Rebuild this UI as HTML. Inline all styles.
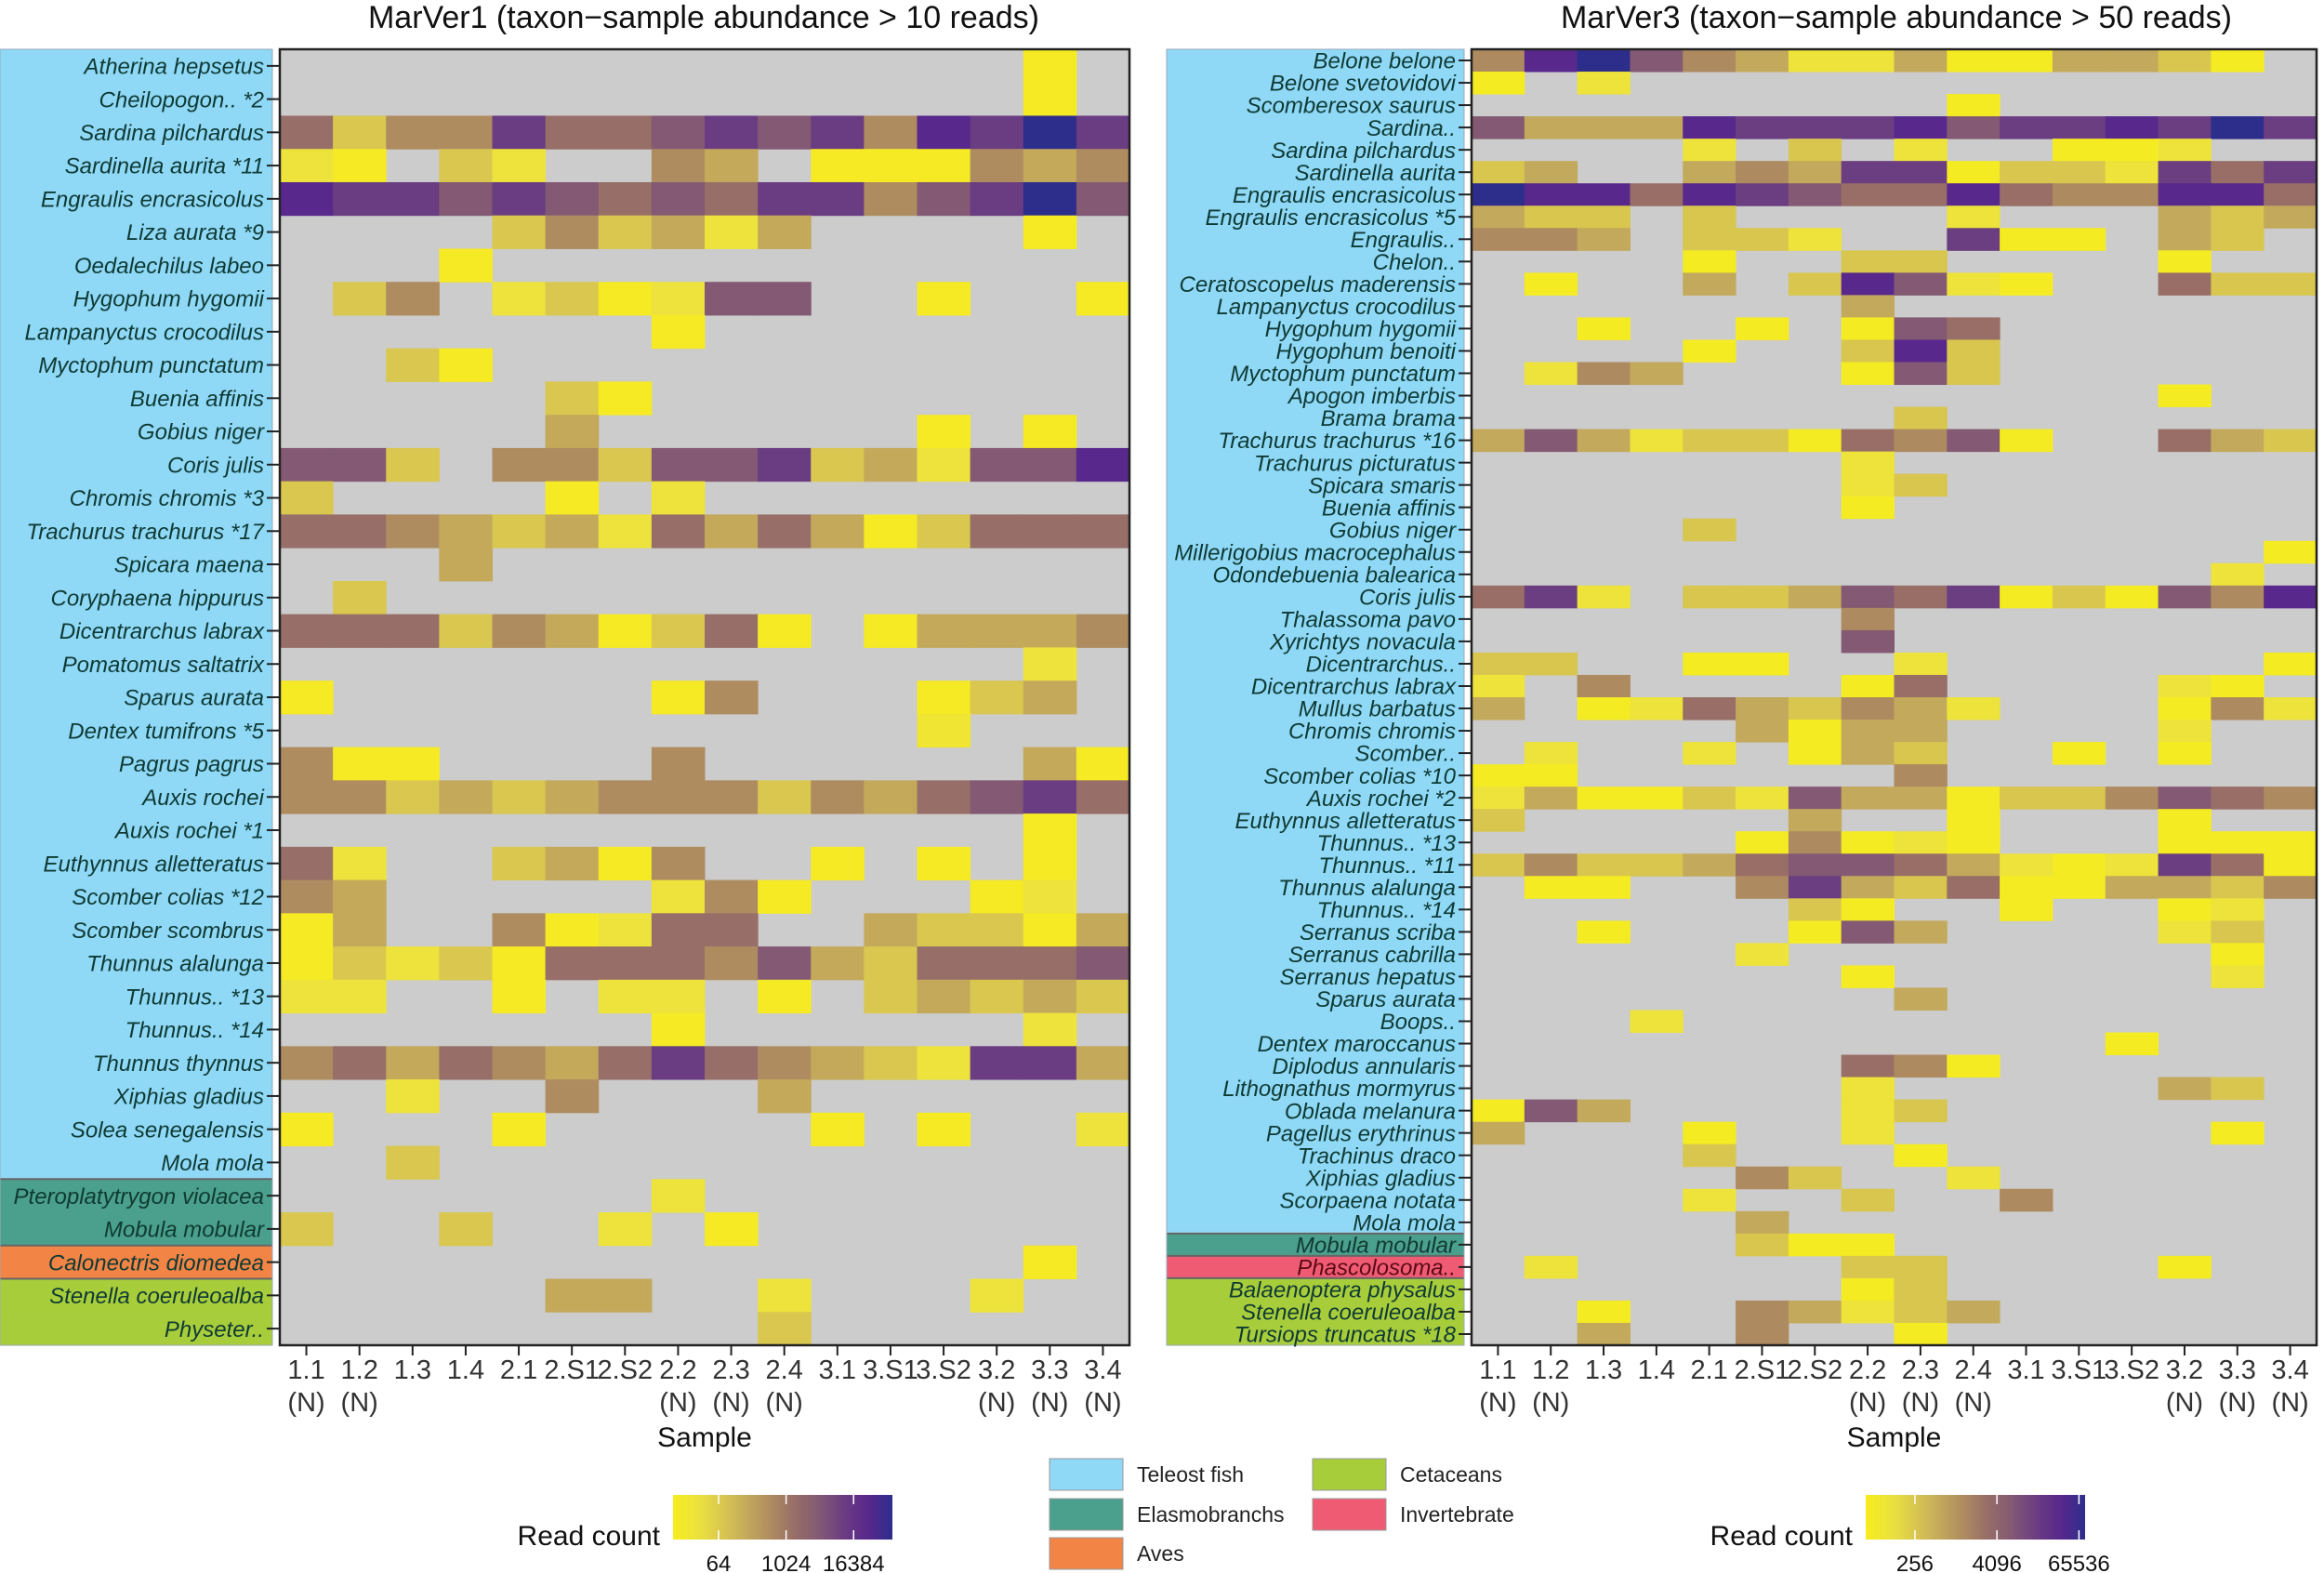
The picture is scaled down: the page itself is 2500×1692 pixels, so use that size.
<!DOCTYPE html>
<html><head><meta charset="utf-8">
<style>
html,body{margin:0;padding:0;background:#fff;}
svg{display:block;}
text{font-family:"Liberation Sans Narrow","Liberation Sans",sans-serif;}
</style></head>
<body>
<svg id="fig" width="2500" height="1692" viewBox="0 0 2500 1692" xmlns="http://www.w3.org/2000/svg">
  <text x="757" y="30" font-size="34" text-anchor="middle" fill="#111">MarVer1 (taxon−sample abundance &gt; 10 reads)</text>
  <text x="2040" y="30" font-size="34" text-anchor="middle" fill="#111">MarVer3 (taxon−sample abundance &gt; 50 reads)</text>
  <g id="left"></g>
  <g id="right"></g>
  <g id="legend"></g>
</svg>
<script>
const samples = ["1.1","1.2","1.3","1.4","2.1","2.S1","2.S2","2.2","2.3","2.4","3.1","3.S1","3.S2","3.2","3.3","3.4"];
const sampleSub = ["(N)","(N)","","","","","","(N)","(N)","(N)","","","","(N)","(N)","(N)"];

const leftTaxa = ["Atherina hepsetus","Cheilopogon..  *2","Sardina pilchardus","Sardinella aurita *11","Engraulis encrasicolus","Liza aurata *9","Oedalechilus labeo","Hygophum hygomii","Lampanyctus crocodilus","Myctophum punctatum","Buenia affinis","Gobius niger","Coris julis","Chromis chromis *3","Trachurus trachurus *17","Spicara maena","Coryphaena hippurus","Dicentrarchus labrax","Pomatomus saltatrix","Sparus aurata","Dentex tumifrons *5","Pagrus pagrus","Auxis rochei","Auxis rochei *1","Euthynnus alletteratus","Scomber colias *12","Scomber scombrus","Thunnus alalunga","Thunnus..  *13","Thunnus..  *14","Thunnus thynnus","Xiphias gladius","Solea senegalensis","Mola mola","Pteroplatytrygon violacea","Mobula mobular","Calonectris diomedea","Stenella coeruleoalba","Physeter.."];
const leftGroups = ["T","T","T","T","T","T","T","T","T","T","T","T","T","T","T","T","T","T","T","T","T","T","T","T","T","T","T","T","T","T","T","T","T","T","E","E","A","C","C"];
const leftReads = [
[0,0,0,0,0,0,0,0,0,0,0,0,0,0,12,0],
[0,0,0,0,0,0,0,0,0,0,0,0,0,0,12,0],
[1450,73,540,540,11000,1450,1450,4000,11000,4000,11000,540,30000,11000,80000,11000],
[27,12,0,73,27,0,0,540,200,0,12,12,12,540,200,540],
[30000,11000,11000,4000,11000,4000,1450,4000,1450,11000,11000,540,4000,11000,80000,4000],
[0,0,0,0,73,540,73,200,27,200,0,0,0,0,12,0],
[0,0,0,12,0,0,0,0,0,0,0,0,0,0,0,0],
[0,73,540,0,27,73,12,27,4000,4000,0,0,12,0,0,12],
[0,0,0,0,0,0,0,12,0,0,0,0,0,0,0,0],
[0,0,73,12,0,0,0,0,0,0,0,0,0,0,0,0],
[0,0,0,0,0,73,12,0,0,0,0,0,0,0,0,0],
[0,0,0,0,0,200,0,0,0,0,0,0,12,0,12,0],
[4000,4000,73,0,540,540,73,4000,4000,11000,73,200,27,4000,4000,30000],
[73,0,0,0,0,12,0,27,0,0,0,0,0,0,0,0],
[1450,1450,540,200,73,200,27,1450,200,1450,200,12,73,1450,1450,1450],
[0,0,0,200,0,0,0,0,0,0,0,0,0,0,0,0],
[0,73,0,0,0,0,0,0,0,0,0,0,0,0,0,0],
[1450,1450,1450,73,540,200,12,73,1450,12,0,12,200,200,200,540],
[0,0,0,0,0,0,0,0,0,0,0,0,0,0,27,0],
[12,0,0,0,0,0,0,12,540,0,0,0,12,73,200,0],
[0,0,0,0,0,0,0,0,0,0,0,0,20,0,0,0],
[540,12,12,0,0,0,0,540,0,0,0,0,0,0,200,12],
[540,540,73,200,73,200,540,540,540,73,540,200,1450,4000,11000,1450],
[0,0,0,0,0,0,0,0,0,0,0,0,0,0,12,0],
[1450,27,0,0,73,200,12,540,0,0,12,0,12,0,12,0],
[540,200,0,0,0,0,0,27,540,12,0,0,0,12,27,0],
[12,200,0,0,540,12,27,1450,1450,0,0,200,73,73,12,200],
[12,73,27,73,12,1450,1450,1450,540,4000,200,73,1450,1450,1450,4000],
[27,27,0,0,12,0,27,27,0,12,0,73,200,73,200,73],
[0,0,0,0,0,0,0,12,0,0,0,0,0,0,27,0],
[540,1450,200,1450,540,200,1450,11000,1450,540,200,73,27,11000,11000,200],
[0,0,27,0,0,540,0,0,0,200,0,0,0,0,0,0],
[12,0,0,0,12,0,0,0,0,0,12,0,12,0,0,27],
[0,0,73,0,0,0,0,0,0,0,0,0,0,0,0,0],
[0,0,0,0,0,0,0,27,0,0,0,0,0,0,0,0],
[73,0,0,73,0,0,27,0,12,0,0,0,0,0,0,0],
[0,0,0,0,0,0,0,0,0,0,0,0,0,0,12,0],
[0,0,0,0,0,200,200,0,0,27,0,0,0,27,0,0],
[0,0,0,0,0,0,0,0,0,73,0,0,0,0,0,0]
];

const rightTaxa = ["Belone belone","Belone svetovidovi","Scomberesox saurus","Sardina..","Sardina pilchardus","Sardinella aurita","Engraulis encrasicolus","Engraulis encrasicolus *5","Engraulis..","Chelon..","Ceratoscopelus maderensis","Lampanyctus crocodilus","Hygophum hygomii","Hygophum benoiti","Myctophum punctatum","Apogon imberbis","Brama brama","Trachurus trachurus *16","Trachurus picturatus","Spicara smaris","Buenia affinis","Gobius niger","Millerigobius macrocephalus","Odondebuenia balearica","Coris julis","Thalassoma pavo","Xyrichtys novacula","Dicentrarchus..","Dicentrarchus labrax","Mullus barbatus","Chromis chromis","Scomber..","Scomber colias *10","Auxis rochei *2","Euthynnus alletteratus","Thunnus..  *13","Thunnus..  *11","Thunnus alalunga","Thunnus..  *14","Serranus scriba","Serranus cabrilla","Serranus hepatus","Sparus aurata","Boops..","Dentex maroccanus","Diplodus annularis","Lithognathus mormyrus","Oblada melanura","Pagellus erythrinus","Trachinus draco","Xiphias gladius","Scorpaena notata","Mola mola","Mobula mobular","Phascolosoma..","Balaenoptera physalus","Stenella coeruleoalba","Tursiops truncatus *18"];
const rightGroups = ["T","T","T","T","T","T","T","T","T","T","T","T","T","T","T","T","T","T","T","T","T","T","T","T","T","T","T","T","T","T","T","T","T","T","T","T","T","T","T","T","T","T","T","T","T","T","T","T","T","T","T","T","T","E","I","C","C","C"];
const rightReads = [
[1350,35000,80000,6700,1350,590,110,110,590,55,55,590,590,260,55,0],
[55,0,110,0,0,0,0,0,0,0,0,0,0,0,0,0],
[0,0,0,0,0,0,0,0,0,55,0,0,0,0,0,0],
[6700,590,590,590,35000,15000,15000,15000,35000,6700,15000,15000,35000,15000,80000,15000],
[0,0,0,0,110,0,260,0,110,0,0,55,55,110,0,0],
[260,590,0,0,590,1350,590,15000,15000,55,260,260,110,15000,2900,15000],
[80000,35000,35000,2900,35000,15000,6700,2900,2900,35000,2900,1350,1350,35000,35000,2900],
[590,260,260,0,260,0,0,0,0,110,0,0,0,590,260,590],
[1350,1350,590,0,260,260,110,0,0,15000,55,55,0,590,260,0],
[0,0,0,0,55,0,0,260,260,0,0,0,0,55,0,0],
[0,55,0,0,590,0,260,35000,6700,110,55,0,0,2900,260,260],
[0,0,0,0,0,0,0,590,0,0,0,0,0,0,0,0],
[0,0,55,0,0,55,0,55,6700,2900,0,0,0,0,0,0],
[0,0,0,0,55,0,0,260,35000,260,0,0,0,0,0,0],
[0,110,1350,590,0,0,0,55,6700,260,0,0,0,0,0,0],
[0,0,0,0,0,0,0,0,0,0,0,0,0,55,0,0],
[0,0,0,0,0,0,0,0,260,0,0,0,0,0,0,0],
[590,6700,590,110,260,260,55,2900,1350,6700,55,0,0,2900,590,260],
[0,0,0,0,0,0,0,110,0,0,0,0,0,0,0,0],
[0,0,0,0,0,0,0,110,260,0,0,0,0,0,0,0],
[0,0,0,0,0,0,0,55,0,0,0,0,0,0,0,0],
[0,0,0,0,260,0,0,0,0,0,0,0,0,0,0,0],
[0,0,0,0,0,0,0,0,0,0,0,0,0,0,0,55],
[0,0,0,0,0,0,0,0,0,0,0,0,0,0,110,0],
[2900,15000,110,0,260,260,590,6700,2900,15000,55,260,55,6700,1350,35000],
[0,0,0,0,0,0,0,1350,0,0,0,0,0,0,0,0],
[0,0,0,0,0,0,0,6700,0,0,0,0,0,0,0,0],
[260,260,0,0,55,55,0,0,110,0,0,0,0,0,0,55],
[110,0,1350,0,0,0,0,55,2900,0,0,0,0,110,55,0],
[590,0,55,110,2900,590,260,1350,590,110,0,0,0,55,1350,110],
[0,0,0,0,0,590,55,590,590,0,0,0,0,110,0,0],
[0,110,0,0,110,0,55,590,260,0,0,55,0,55,0,0],
[55,55,0,0,0,0,0,0,1350,0,0,0,0,0,0,0],
[110,590,55,55,260,110,6700,590,590,55,260,260,1350,6700,2900,1350],
[260,0,0,0,0,0,590,0,0,55,0,0,0,55,0,0],
[0,0,0,0,0,55,1350,55,110,55,0,0,0,55,55,55],
[260,1350,260,260,590,2900,6700,6700,2900,590,110,55,110,15000,2900,55],
[0,55,55,0,0,1350,15000,590,260,2900,55,55,590,590,260,1350],
[0,0,0,0,0,0,260,55,0,0,55,0,0,55,110,0],
[0,0,55,0,0,0,55,6700,590,0,0,0,0,110,260,0],
[0,0,0,0,0,110,0,0,0,0,0,0,0,0,55,0],
[0,0,0,0,0,0,0,55,0,0,0,0,0,0,110,0],
[0,0,0,0,0,0,0,0,590,0,0,0,0,0,0,0],
[0,0,0,110,0,0,0,0,0,0,0,0,0,0,0,0],
[0,0,0,0,0,0,0,0,0,0,0,0,55,0,0,0],
[0,0,0,0,0,0,0,2900,1350,55,0,0,0,0,0,0],
[0,0,0,0,0,0,0,110,0,0,0,0,0,590,260,0],
[55,6700,590,0,0,0,0,110,260,0,0,0,0,0,0,0],
[590,0,0,0,55,0,0,110,0,0,0,0,0,0,55,0],
[0,0,0,0,260,0,0,0,55,0,0,0,0,0,0,0],
[0,0,0,0,0,1350,260,0,0,110,0,0,0,0,0,0],
[0,0,0,0,110,0,0,260,0,0,1350,0,0,0,0,0],
[0,0,0,0,0,590,0,0,0,0,0,0,0,0,0,0],
[0,0,0,0,0,260,55,55,0,0,0,0,0,0,0,0],
[0,110,0,0,0,0,0,260,260,0,0,0,0,55,0,0],
[0,0,0,0,0,0,0,55,260,0,0,0,0,0,0,0],
[0,0,55,0,0,1350,590,110,260,590,0,0,0,0,0,0],
[0,0,590,0,0,1350,0,0,55,0,0,0,0,0,0,0]
];

const leftTicks = [64,1024,16384];
const rightTicks = [256,4096,65536];

const NS = "http://www.w3.org/2000/svg";
const groupColor = {T:"#8fd8f6",E:"#4b9f8d",A:"#f28446",C:"#a8cd3b",I:"#ef5b73"};
const stops = [[0,[247,236,30]],[0.12,[236,226,62]],[0.28,[206,184,88]],[0.45,[174,138,96]],[0.56,[150,108,104]],[0.67,[130,88,116]],[0.78,[106,60,130]],[0.89,[88,40,140]],[1,[45,45,140]]];
function colorAt(t){
  t=Math.max(0,Math.min(1,t));
  for(let i=1;i<stops.length;i++){
    if(t<=stops[i][0]){
      const a=stops[i-1],b=stops[i];const f=(t-a[0])/(b[0]-a[0]);
      const c=a[1].map((v,k)=>Math.round(v+(b[1][k]-v)*f));
      return "rgb("+c.join(",")+")";
    }
  }
  return "rgb(45,45,140)";
}
function mk(tag,attrs,parent){
  const el=document.createElementNS(NS,tag);
  for(const k in attrs) el.setAttribute(k,attrs[k]);
  parent.appendChild(el);
  return el;
}

function panel(gid,cfg){
  const g=document.getElementById(gid);
  const n=cfg.taxa.length;
  const rh=(cfg.y1-cfg.y0)/n;
  const cw=(cfg.x1-cfg.x0)/samples.length;
  const yPos=i=>cfg.y0+i*rh;
  const xPos=j=>cfg.x0+j*cw;
  const tScale=v=>(Math.log2(v)-cfg.lmin)/(cfg.lmax-cfg.lmin);
  for(let i=0;i<n;i++){
    const r=mk("rect",{x:cfg.sx0,y:yPos(i),width:cfg.sx1-cfg.sx0,height:rh+0.6,fill:groupColor[cfg.groups[i]]},g);
    
    
  }
  for(let i=1;i<n;i++){
    if(cfg.groups[i]!==cfg.groups[i-1]){
      const l=mk("line",{x1:cfg.sx0,x2:cfg.sx1,y1:yPos(i),y2:yPos(i),stroke:"#666","stroke-width":2},g);
      
      
    }
  }
  const bo=mk("rect",{x:cfg.sx0,y:cfg.y0,width:cfg.sx1-cfg.sx0,height:cfg.y1-cfg.y0,fill:"none",stroke:"#9ab","stroke-width":1},g);
  
  
  const bg=mk("rect",{x:cfg.x0,y:cfg.y0,width:cfg.x1-cfg.x0,height:cfg.y1-cfg.y0,fill:"#cbcccb"},g);
  
  
  for(let i=0;i<n;i++){
    for(let j=0;j<samples.length;j++){
      const v=cfg.reads[i][j];
      if(!v) continue;
      const c=mk("rect",{x:xPos(j),y:yPos(i),width:cw+0.5,height:rh+0.5,fill:colorAt(tScale(v))},g);
      
      
    }
  }
  const fr=mk("rect",{x:cfg.x0,y:cfg.y0,width:cfg.x1-cfg.x0,height:cfg.y1-cfg.y0,fill:"none",stroke:"#222","stroke-width":2.5},g);
  
  
  for(let i=0;i<n;i++){
    const yc=yPos(i)+rh/2;
    const t=mk("text",{x:cfg.sx1-9,y:yc+cfg.fs*0.36,"font-size":cfg.fs,"font-style":"italic","text-anchor":"end",fill:cfg.groups[i]==="I"?"#5a0a14":"#0f3a34"},g);
    t.textContent=cfg.taxa[i];
    
    
    const tk=mk("line",{x1:cfg.sx1-6,x2:cfg.x0,y1:yc,y2:yc,stroke:"#222","stroke-width":2},g);
    
    
  }
  for(let j=0;j<samples.length;j++){
    const xc=xPos(j)+cw/2;
    const tk=mk("line",{x1:xc,x2:xc,y1:cfg.y1,y2:cfg.y1+11,stroke:"#222","stroke-width":2},g);
    
    
    const t1=mk("text",{x:xc,y:1483,"font-size":29,"text-anchor":"middle",fill:"#333"},g);
    t1.textContent=samples[j];
    
    
    if(sampleSub[j]){
      const t2=mk("text",{x:xc,y:1518,"font-size":29,"text-anchor":"middle",fill:"#333"},g);
      t2.textContent=sampleSub[j];
      
      
    }
  }
  const xt=mk("text",{x:(cfg.x0+cfg.x1)/2,y:1556,"font-size":30,"text-anchor":"middle",fill:"#111"},g);
  xt.textContent="Sample";
  
  
  const gradId=gid+"-grad";
  const defs=mk("defs",{},g);
  const lg=mk("linearGradient",{id:gradId,x1:"0",x2:"1",y1:"0",y2:"0"},defs);
  for(let k=0;k<=20;k++){mk("stop",{offset:k/20,"stop-color":colorAt(k/20)},lg);}
  const cb=mk("rect",{x:cfg.cbx0,y:1608,width:cfg.cbx1-cfg.cbx0,height:48,fill:"url(#"+gradId+")"},g);
  
  
  cfg.ticks.forEach(tv=>{
    const x=cfg.cbx0+(cfg.cbx1-cfg.cbx0)*tScale(tv);
    const l=mk("line",{x1:x,x2:x,y1:1608,y2:1618,stroke:"#fff","stroke-width":1.5},g);
    
    
    const l2=mk("line",{x1:x,x2:x,y1:1646,y2:1656,stroke:"#fff","stroke-width":1.5},g);
    
    
    const t=mk("text",{x:x,y:1690,"font-size":24,"text-anchor":"middle",fill:"#111"},g);
    t.textContent=String(tv);
    
    
  });
  const lt=mk("text",{x:cfg.cbx0-14,y:1662,"font-size":30,"text-anchor":"end",fill:"#111"},g);
  lt.textContent="Read count";
  
  
}

panel("left",{taxa:leftTaxa,groups:leftGroups,reads:leftReads,x0:301,x1:1215,y0:53,y1:1447,sx0:0,sx1:293,fs:24,lmin:3.3,lmax:16.3,cbx0:724,cbx1:960,ticks:leftTicks});
panel("right",{taxa:rightTaxa,groups:rightGroups,reads:rightReads,x0:1583,x1:2492,y0:53,y1:1447,sx0:1255,sx1:1575,fs:24,lmin:5.6,lmax:16.3,cbx0:2007,cbx1:2243,ticks:rightTicks});

const legendItems=[["Teleost fish","T",1129,1569],["Elasmobranchs","E",1129,1612],["Aves","A",1129,1654],["Cetaceans","C",1412,1569],["Invertebrate","I",1412,1612]];
const lgG=document.getElementById("legend");
legendItems.forEach(it=>{
  const r=mk("rect",{x:it[2],y:it[3],width:79,height:34,fill:groupColor[it[1]],stroke:"#999","stroke-width":1},lgG);
  
  
  const t=mk("text",{x:it[2]+94,y:it[3]+25,"font-size":23,fill:"#222"},lgG);
  t.textContent=it[0];
  
  
});
</script>
</body></html>
